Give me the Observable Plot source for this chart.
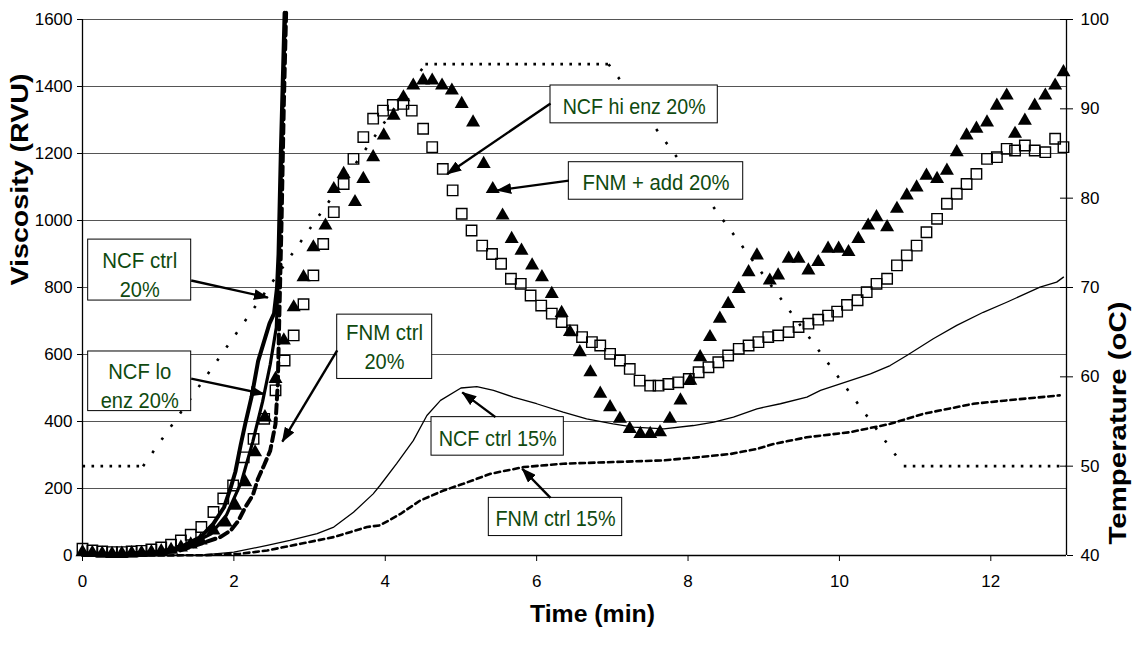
<!DOCTYPE html>
<html><head><meta charset="utf-8">
<script src="https://cdn.jsdelivr.net/npm/d3@7"></script>
<script src="https://cdn.jsdelivr.net/npm/@observablehq/plot@0.6"></script>
<style>
body{margin:0;background:#fff}
#chart svg{display:block}
</style>
</head><body><div id="chart"></div>
<script>
// ---------- data ----------
const xTicks = [0, 2, 4, 6, 8, 10, 12];
const yTicks = [0, 200, 400, 600, 800, 1000, 1200, 1400, 1600];
const tempTicks = [40, 50, 60, 70, 80, 90, 100];

// NCF ctrl 20% (thick solid)
const ncfCtrl20Time = [0, 0.5, 1.0, 1.3, 1.56, 1.73, 1.87, 1.96, 2.02, 2.09, 2.15, 2.24, 2.32, 2.4, 2.47, 2.53, 2.57, 2.59, 2.62, 2.65, 2.67];
const ncfCtrl20Visc = [3, 4, 10, 25, 55, 95, 144, 204, 250, 330, 393, 480, 580, 640, 692, 722, 800, 900, 1200, 1450, 1620];

// NCF lo enz 20% (thick solid, mostly under the triangles)
const ncfLo20Time = [0, 0.5, 1.0, 1.4, 1.7, 1.9, 2.1, 2.25, 2.38, 2.48, 2.56, 2.6, 2.64, 2.68];
const ncfLo20Visc = [8, 6, 12, 30, 65, 120, 220, 340, 460, 570, 680, 900, 1300, 1620];

// FNM ctrl 20% (thick dashed)
const fnmCtrl20Time = [0, 0.5, 1.0, 1.29, 1.56, 1.82, 1.96, 2.06, 2.15, 2.25, 2.32, 2.40, 2.48, 2.55, 2.58, 2.6, 2.63, 2.66, 2.69];
const fnmCtrl20Visc = [2, 3, 6, 15, 35, 55, 75, 104, 144, 180, 230, 270, 313, 393, 513, 711, 1000, 1350, 1620];

// NCF hi enz 20% (open squares)
const ncfHi20Time = [0, 0.13, 0.26, 0.39, 0.52, 0.65, 0.78, 0.91, 1.04, 1.17, 1.30, 1.43, 1.57, 1.73, 1.86, 1.99, 2.13, 2.26, 2.40, 2.55, 2.67, 2.79, 2.92, 3.05, 3.18, 3.32, 3.45, 3.58, 3.71, 3.84, 3.97, 4.10, 4.24, 4.35, 4.50, 4.62, 4.76, 4.89, 5.01, 5.14, 5.28, 5.41, 5.53, 5.66, 5.79, 5.92, 6.06, 6.20, 6.33, 6.47, 6.60, 6.73, 6.84, 6.97, 7.10, 7.23, 7.36, 7.50, 7.61, 7.74, 7.87, 8.01, 8.14, 8.27, 8.40, 8.53, 8.67, 8.80, 8.93, 9.06, 9.19, 9.33, 9.46, 9.59, 9.72, 9.85, 9.97, 10.10, 10.24, 10.36, 10.49, 10.63, 10.76, 10.89, 11.02, 11.15, 11.29, 11.42, 11.55, 11.68, 11.81, 11.95, 12.08, 12.21, 12.32, 12.45, 12.58, 12.72, 12.85, 12.96];
const ncfHi20Visc = [20, 15, 12, 10, 10, 12, 14, 18, 24, 32, 45, 62, 85, 130, 170, 209, 293, 348, 408, 493, 582, 657, 750, 836, 930, 1025, 1109, 1184, 1249, 1304, 1328, 1345, 1348, 1328, 1274, 1219, 1154, 1090, 1020, 970, 925, 900, 871, 826, 811, 776, 746, 722, 697, 672, 652, 637, 627, 602, 582, 557, 522, 507, 507, 512, 517, 527, 547, 562, 577, 597, 617, 627, 637, 652, 657, 667, 682, 692, 704, 716, 728, 748, 762, 786, 811, 826, 866, 896, 925, 965, 1005, 1050, 1080, 1109, 1139, 1184, 1189, 1214, 1209, 1224, 1209, 1204, 1244, 1219];

// FNM + add 20% (filled triangles)
const fnmAdd20Time = [0, 0.13, 0.26, 0.39, 0.52, 0.65, 0.78, 0.91, 1.04, 1.17, 1.30, 1.43, 1.56, 1.73, 1.89, 2.02, 2.15, 2.28, 2.41, 2.55, 2.66, 2.79, 2.92, 3.05, 3.21, 3.32, 3.45, 3.60, 3.71, 3.84, 3.98, 4.11, 4.24, 4.37, 4.50, 4.62, 4.75, 4.88, 5.01, 5.16, 5.30, 5.42, 5.55, 5.67, 5.80, 5.94, 6.07, 6.20, 6.33, 6.44, 6.57, 6.71, 6.84, 6.97, 7.10, 7.23, 7.37, 7.50, 7.63, 7.76, 7.90, 8.03, 8.16, 8.29, 8.42, 8.53, 8.67, 8.80, 8.91, 9.08, 9.19, 9.33, 9.46, 9.59, 9.72, 9.85, 9.99, 10.12, 10.25, 10.38, 10.49, 10.63, 10.76, 10.89, 11.02, 11.15, 11.29, 11.42, 11.55, 11.68, 11.81, 11.95, 12.08, 12.21, 12.32, 12.45, 12.58, 12.72, 12.85, 12.96];
const fnmAdd20Visc = [10, 8, 6, 5, 6, 7, 8, 10, 13, 17, 24, 33, 45, 75, 99, 149, 219, 308, 413, 527, 642, 741, 831, 920, 985, 1094, 1139, 1055, 1124, 1189, 1254, 1313, 1368, 1403, 1418, 1418, 1403, 1388, 1348, 1293, 1169, 1094, 1015, 945, 910, 866, 831, 781, 724, 667, 607, 547, 483, 443, 408, 378, 363, 363, 368, 408, 463, 522, 592, 652, 707, 751, 796, 846, 896, 821, 836, 886, 886, 851, 876, 916, 916, 906, 945, 985, 1010, 980, 1035, 1075, 1099, 1134, 1124, 1149, 1204, 1254, 1274, 1293, 1343, 1373, 1259, 1298, 1343, 1373, 1403, 1443];

// NCF ctrl 15% (thin solid)
const ncfCtrl15Time = [0, 1.0, 1.6, 2.0, 2.44, 2.74, 3.1, 3.32, 3.58, 3.84, 3.93, 4.15, 4.37, 4.55, 4.73, 5.0, 5.21, 5.43, 5.69, 6.0, 6.35, 6.66, 7.01, 7.28, 7.68, 8.07, 8.34, 8.6, 8.91, 9.22, 9.57, 9.75, 10.14, 10.41, 10.67, 10.89, 11.24, 11.55, 11.9, 12.21, 12.65, 12.87, 12.96];
const ncfCtrl15Visc = [0, 0, 2, 10, 30, 45, 65, 85, 129, 184, 209, 274, 343, 418, 463, 500, 504, 493, 473, 453, 428, 408, 393, 383, 378, 388, 398, 413, 438, 453, 473, 493, 522, 542, 567, 597, 647, 687, 726, 756, 801, 816, 831];

// FNM ctrl 15% (thin dashed)
const fnmCtrl15Time = [0, 1.0, 1.6, 2.08, 2.44, 2.88, 3.32, 3.76, 3.93, 4.2, 4.46, 4.77, 5.03, 5.39, 5.83, 6.35, 7.01, 7.68, 8.12, 8.56, 8.91, 9.13, 9.57, 10.14, 10.67, 11.11, 11.77, 12.21, 12.91];
const fnmCtrl15Visc = [0, 0, 1, 5, 15, 35, 55, 85, 90, 124, 164, 194, 214, 244, 264, 274, 279, 284, 293, 303, 318, 333, 353, 368, 393, 423, 453, 463, 478];

// Temperature profile (dotted, right axis, °C)
const tempTime = [0, 0.8, 4.53, 6.95, 10.85, 13];
const tempC = [50, 50, 95, 95, 50, 50];

// Annotation texts
const labelTexts = ["NCF ctrl\n20%", "NCF lo\nenz 20%", "FNM ctrl\n20%", "NCF hi enz 20%", "FNM + add 20%", "NCF ctrl 15%", "FNM ctrl 15%"];

// ---------- layout (positions in data units) ----------
const layout = [
  {x1: 0.075, x2: 1.436, y1: 761, y2: 943, tx: 0.756, ty: 843, ax1: 1.436, ay1: 821, ax2: 2.45, ay2: 770},
  {x1: 0.075, x2: 1.436, y1: 431, y2: 609, tx: 0.756, ty: 512, ax1: 1.436, ay1: 528, ax2: 2.40, ay2: 482},
  {x1: 3.365, x2: 4.62, y1: 527, y2: 719, tx: 3.99, ty: 627, ax1: 3.365, ay1: 612, ax2: 2.64, ay2: 340},
  {x1: 6.183, x2: 8.393, y1: 1290, y2: 1403, tx: 7.288, ty: 1346, ax1: 6.183, ay1: 1349, ax2: 4.818, ay2: 1139},
  {x1: 6.425, x2: 8.729, y1: 1062, y2: 1174, tx: 7.577, ty: 1118, ax1: 6.425, ay1: 1119, ax2: 5.479, ay2: 1090},
  {x1: 4.611, x2: 6.359, y1: 298, y2: 413, tx: 5.485, ty: 356, ax1: 5.456, ay1: 413, ax2: 5.017, ay2: 487},
  {x1: 5.368, x2: 7.13, y1: 58, y2: 172, tx: 6.249, ty: 115, ax1: 6.183, ay1: 172, ax2: 5.809, ay2: 259}
].map((d, i) => ({...d, label: labelTexts[i]}));

const fitLengths = {"NCF ctrl": 75, "20%": 40, "NCF lo": 63, "enz 20%": 78, "FNM ctrl": 77,
  "NCF hi enz 20%": 143, "FNM + add 20%": 147, "NCF ctrl 15%": 118, "FNM ctrl 15%": 120,
  "Time (min)": 125, "Viscosity (RVU)": 212, "Temperature (oC)": 243};

const toV = t => (t - 40) / 60 * 1600;
const green = "#0f4a0f";

// temperature profile as consecutive segments (holds vs. ramps get different dot spacing)
const tempSegs = tempTime.slice(1).map((t, i) => ({
  x1: tempTime[i], x2: t, y1: toV(tempC[i]), y2: toV(tempC[i + 1]), flat: tempC[i] === tempC[i + 1]
}));

const plot = Plot.plot({
  width: 1133, height: 645,
  marginLeft: 82, marginRight: 67, marginTop: 19, marginBottom: 90,
  style: {fontFamily: "'Liberation Sans', Arial, sans-serif", fontSize: "17px", background: "#fff", color: "#000"},
  x: {domain: [0, 13]},
  y: {domain: [0, 1600]},
  marks: [
    Plot.gridY(yTicks, {stroke: "#555", strokeOpacity: 1, strokeWidth: 1}),
    Plot.axisX(xTicks, {tickSize: 6, tickPadding: 13, label: null, tickFormat: d => String(d)}),
    Plot.axisY(yTicks, {tickSize: 5, tickPadding: 5, label: null, tickFormat: d => String(d)}),
    Plot.axisY(tempTicks.map(toV), {anchor: "right", tickSize: 6, tickPadding: 8, label: null,
      tickFormat: v => String(Math.round(v / 1600 * 60 + 40))}),
    Plot.ruleY(tempTicks.map(toV), {x1: 13 - 6 / 75.69, x2: 13, stroke: "#000"}),
    Plot.ruleY([0], {stroke: "#000", strokeWidth: 1.3}),
    Plot.ruleX([0], {stroke: "#000", strokeWidth: 1.3}),
    Plot.ruleX([13], {stroke: "#000", strokeWidth: 1.3}),

    // temperature (dotted)
    Plot.link(tempSegs.filter(d => d.flat), {x1: "x1", x2: "x2", y1: "y1", y2: "y2", stroke: "#000", strokeWidth: 2.6, strokeDasharray: "2.6,6.4"}),
    Plot.link(tempSegs.filter(d => !d.flat), {x1: "x1", x2: "x2", y1: "y1", y2: "y2", stroke: "#000", strokeWidth: 2.6, strokeDasharray: "2.6,13.5"}),
    // thin lines
    Plot.line(ncfCtrl15Time, {x: ncfCtrl15Time, y: ncfCtrl15Visc, stroke: "#000", strokeWidth: 1.3}),
    Plot.line(fnmCtrl15Time, {x: fnmCtrl15Time, y: fnmCtrl15Visc, stroke: "#000", strokeWidth: 2.6, strokeDasharray: "5.5,4"}),
    // thick lines
    Plot.line(ncfLo20Time, {x: ncfLo20Time, y: ncfLo20Visc, stroke: "#000", strokeWidth: 3.2}),
    Plot.line(fnmCtrl20Time, {x: fnmCtrl20Time, y: fnmCtrl20Visc, stroke: "#000", strokeWidth: 4, strokeDasharray: "9,5"}),
    Plot.line(ncfCtrl20Time, {x: ncfCtrl20Time, y: ncfCtrl20Visc, stroke: "#000", strokeWidth: 4}),
    // markers
    Plot.dot(ncfHi20Time, {x: ncfHi20Time, y: ncfHi20Visc, symbol: "square", r: 5.9, fill: "none", stroke: "#000", strokeWidth: 1.4}),
    Plot.dot(fnmAdd20Time, {x: fnmAdd20Time, y: fnmAdd20Visc, symbol: "triangle", r: 5.2, fill: "#000", stroke: "none"}),

    // annotations
    Plot.rect(layout, {x1: "x1", x2: "x2", y1: "y1", y2: "y2", fill: "#fff", stroke: "#000", strokeWidth: 1}),
    Plot.text(layout, {x: "tx", y: "ty", text: "label", fill: green, fontSize: 22, lineHeight: 1.33}),
    Plot.link(layout, {x1: "ax1", y1: "ay1", x2: "ax2", y2: "ay2", stroke: "#000", strokeWidth: 2.4, ariaLabel: "arrow"}),

    // axis titles
    Plot.text(["Time (min)"], {frameAnchor: "bottom", dx: 18, dy: 66, fontWeight: "bold", fontSize: 23, fill: "#000"}),
    Plot.text(["Viscosity (RVU)"], {frameAnchor: "left", dx: -62, dy: -2, rotate: -90, fontWeight: "bold", fontSize: 23, fill: "#000"}),
    Plot.text(["Temperature (oC)"], {frameAnchor: "right", dx: 52, dy: 14, rotate: -90, fontWeight: "bold", fontSize: 23, fill: "#000"})
  ]
});

const svg = d3.select(plot);
const defs = svg.append("defs");
defs.append("marker").attr("id", "fillarrow").attr("markerUnits", "userSpaceOnUse")
  .attr("viewBox", "0 0 15 11").attr("markerWidth", 15).attr("markerHeight", 11)
  .attr("refX", 14).attr("refY", 5.5).attr("orient", "auto")
  .append("path").attr("d", "M0,0L15,5.5L0,11Z").attr("fill", "#000");
// arrowheads only on the annotation links (the last link mark)
const linkGroups = svg.selectAll('g[aria-label="link"], g[aria-label="arrow"]').nodes();
const arrowGroup = linkGroups[linkGroups.length - 1];
d3.select(arrowGroup).selectAll("path").attr("marker-end", "url(#fillarrow)");

svg.selectAll("text, tspan").each(function() {
  if (this.tagName === "text" && this.querySelector("tspan")) return;
  const t = this.textContent;
  if (fitLengths[t]) {
    this.setAttribute("textLength", fitLengths[t]);
    this.setAttribute("lengthAdjust", "spacingAndGlyphs");
  }
});

document.getElementById("chart").appendChild(plot);
</script>
</body></html>
